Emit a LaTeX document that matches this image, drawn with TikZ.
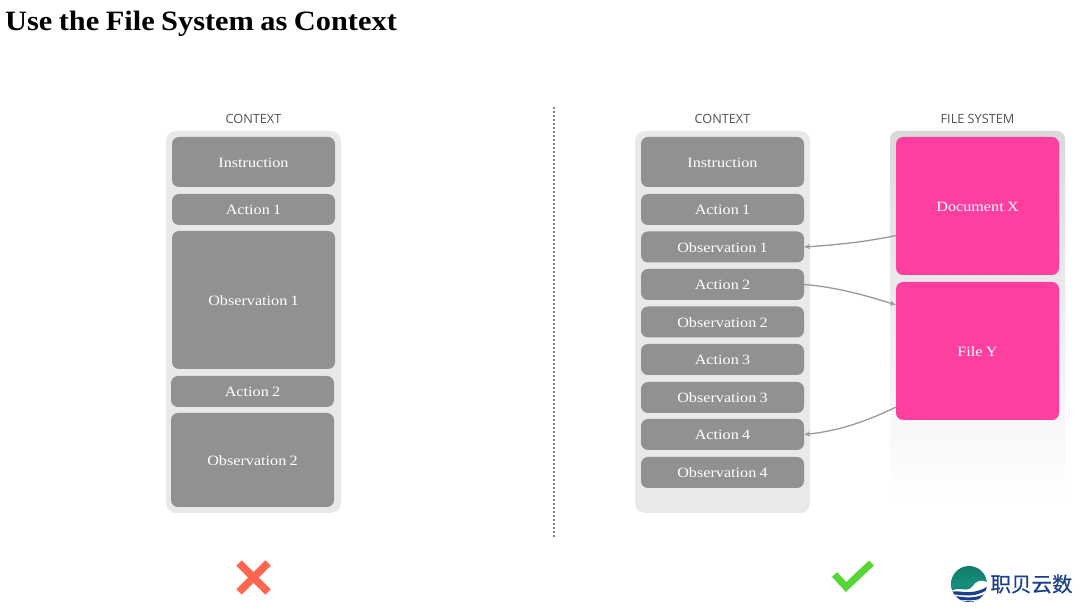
\documentclass[tikz,border=0pt]{standalone}
\usepackage{fontspec}
\setmainfont[FakeStretch=1.14,WordSpace=0.8]{Liberation Serif}
\newfontfamily\titlefont[FakeStretch=1.085,WordSpace=0.85]{Liberation Serif}
\newfontfamily\capfont{Open Sans}
\newfontfamily\cjkfont[FakeBold=0.5]{Noto Sans CJK SC}
\usetikzlibrary{arrows.meta,calc}
\definecolor{boxgray}{HTML}{919191}
\definecolor{panelgray}{HTML}{E9E9E9}
\definecolor{fsgray}{HTML}{D9D9D9}
\definecolor{pinkbox}{HTML}{FF3F9F}
\definecolor{crossred}{HTML}{FF6650}
\definecolor{checkgreen}{HTML}{55D636}
\definecolor{arrowgray}{HTML}{999999}
\definecolor{logoblue}{HTML}{1A3F8F}
\definecolor{logoteal}{HTML}{14907A}
\definecolor{logodark}{HTML}{0F5F93}
\tikzset{
  x=1pt,y=-1pt,
  ctxpanel/.style={fill=panelgray,rounded corners=10pt},
  itembox/.style={draw=none,fill=boxgray,rounded corners=7pt,minimum width=163pt,inner sep=0pt,text=white,text height=11pt,text depth=0pt,font=\fontsize{14.2}{16}\selectfont},
  filebox/.style={itembox,fill=pinkbox},
  headlabel/.style={text=black!68,font=\capfont\fontsize{12.7}{14}\selectfont,inner sep=0pt},
  linkarrow/.style={draw=arrowgray,line width=1.3pt,-{Stealth[length=6pt,width=5pt]}},
}
\begin{document}
\begin{tikzpicture}
\useasboundingbox (0,0) rectangle (1080,609);
\node[anchor=base west,inner sep=0pt,font=\titlefont\bfseries\fontsize{28}{30}\selectfont] (title) at (5,31) {Use the File System as Context};

% left column
\node[headlabel] (lhead) at (253.5,119) {CONTEXT};
\fill[ctxpanel] (166,131) rectangle (341,513);
\node[itembox,minimum height=50pt] (l1) at (253.5,162) {Instruction};
\node[itembox,minimum height=31pt] (l2) at (253.5,209.5) {Action 1};
\node[itembox,minimum height=138pt] (l3) at (253.5,300) {Observation 1};
\node[itembox,minimum height=31pt] (l4) at (252.5,391.5) {Action 2};
\node[itembox,minimum height=94pt] (l5) at (252.5,460) {Observation 2};

% divider
\coordinate (divtop) at (554,107);
\coordinate (divbot) at (554,537);
\draw[black!50,line width=1.2pt,dash pattern=on 2pt off 2pt] (divtop) -- (divbot);

% right context column
\node[headlabel] (rhead) at (722.5,119) {CONTEXT};
\fill[ctxpanel] (635,131) rectangle (810,513);
\node[itembox,minimum height=50pt] (r1) at (722.5,162) {Instruction};
\node[itembox,minimum height=31pt] (r2) at (722.5,209.5) {Action 1};
\node[itembox,minimum height=31pt] (r3) at (722.5,247) {Observation 1};
\node[itembox,minimum height=31pt] (r4) at (722.5,284.5) {Action 2};
\node[itembox,minimum height=31pt] (r5) at (722.5,322) {Observation 2};
\node[itembox,minimum height=31pt] (r6) at (722.5,359.5) {Action 3};
\node[itembox,minimum height=31pt] (r7) at (722.5,397.5) {Observation 3};
\node[itembox,minimum height=31pt] (r8) at (722.5,434.5) {Action 4};
\node[itembox,minimum height=31pt] (r9) at (722.5,472.5) {Observation 4};

% file system
\node[headlabel] (fhead) at (977.5,119) {FILE SYSTEM};
\shade[top color=fsgray,bottom color=white,middle color=black!7!white]
  [rounded corners=8pt] (890,503) -- (890,131) -- (1065,131) -- (1065,503) [sharp corners] -- cycle;
\node[filebox,minimum height=138pt] (docx) at (977.5,206) {Document X};
\node[filebox,minimum height=138pt] (filey) at (977.5,351) {File Y};

% connectors
\coordinate (dxout) at ($(docx.north west)!0.714!(docx.south west)$);
\coordinate (fyin) at ($(filey.north west)!0.167!(filey.south west)$);
\coordinate (fyout) at ($(filey.north west)!0.906!(filey.south west)$);
\draw[linkarrow] (dxout) .. controls (865,242) and (835,245) .. (r3.east);
\draw[linkarrow] (r4.east) .. controls (835,287) and (865,295) .. (fyin);
\draw[linkarrow] (fyout) .. controls (865,422) and (838,431) .. (r8.east);

% verdict marks
\draw[crossred,line width=7.5pt] (239,563) -- (268,592);
\draw[crossred,line width=7.5pt] (268,563) -- (239,592);
\draw[checkgreen,line width=7pt] (834.5,574.5) -- (846,587) -- (871.5,563);

% logo
\begin{scope}
\clip (969,584) circle (18);
\shade[top color=logoteal!85!black,bottom color=logodark,middle color=logoteal] (951,566) rectangle (987,602);
\fill[white] (951,591) .. controls (960,586) and (966,593) .. (972,587) .. controls (976,581) and (981,579) .. (987,582) -- (987,602) -- (951,602) -- cycle;
\fill[logoblue] (951,592) .. controls (960,589) and (968,597) .. (987,587) -- (987,590) .. controls (970,600) and (960,593) .. (951,595) -- cycle;
\fill[logoblue] (951,597) .. controls (960,594) and (968,602) .. (987,593) -- (987,596) .. controls (972,604) and (960,598) .. (951,600) -- cycle;
\fill[logoblue] (955,601) .. controls (962,599) and (970,604) .. (983,599) -- (983,602) -- (955,602) -- cycle;
\end{scope}
\node[inner sep=0pt,text=logoblue,font=\cjkfont\fontsize{20.5}{22}\selectfont] (brand) at (1031.5,584) {职贝云数};
\end{tikzpicture}
\end{document}
